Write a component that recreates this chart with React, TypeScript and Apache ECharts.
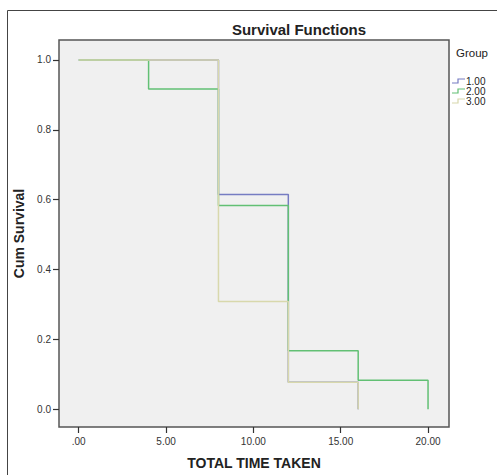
import React, { useEffect, useRef } from "react";
import * as echarts from "echarts";

const groupNames = ["1.00", "2.00", "3.00"];
const groupColors = ["#767cc2", "#62c074", "#d8d8ac"];

const g1Times = [0, 8, 12, 16];
const g1Surv = [1.0, 0.615, 0.077, 0.0];
const g2Times = [0, 4, 8, 12, 16, 20];
const g2Surv = [1.0, 0.917, 0.583, 0.167, 0.083, 0.0];
const g3Times = [0, 8, 12, 16];
const g3Surv = [1.0, 0.308, 0.077, 0.0];

const xTicks = [0, 5, 10, 15, 20];
const yTicks = [0, 0.2, 0.4, 0.6, 0.8, 1.0];

const FONT = "'Liberation Sans', Arial, sans-serif";

export default function App() {
  const ref = useRef<HTMLDivElement>(null);
  useEffect(() => {
    if (!ref.current) return;
    const chart = echarts.init(ref.current, null, { renderer: "svg" });
    const times = [g1Times, g2Times, g3Times];
    const survs = [g1Surv, g2Surv, g3Surv];
    const series = groupNames.map((name, i) => ({
      name,
      type: "line",
      step: "end",
      symbol: "none",
      data: times[i].map((t, j) => [t, survs[i][j]]),
      lineStyle: { color: groupColors[i], width: 1.5 },
      itemStyle: { color: groupColors[i] },
      z: 2 + i,
    }));

    const legendGraphics: any[] = [
      {
        type: "text",
        x: 456,
        y: 53,
        style: { text: "Group", font: `11.5px ${FONT}`, fill: "#222", textVerticalAlign: "middle" },
      },
    ];
    groupNames.forEach((name, i) => {
      const cy = 81 + i * 10;
      legendGraphics.push({
        type: "polyline",
        shape: { points: [[452, cy + 2], [458, cy + 2], [458, cy - 2], [465, cy - 2]] },
        style: { stroke: groupColors[i], lineWidth: 1.2, fill: "none" },
      });
      legendGraphics.push({
        type: "text",
        x: 466,
        y: cy,
        style: { text: name, font: `10px ${FONT}`, fill: "#222", textVerticalAlign: "middle" },
      });
    });

    chart.setOption({
      animation: false,
      backgroundColor: "#ffffff",
      grid: {
        left: 59,
        top: 40,
        width: 390,
        height: 387,
        show: true,
        backgroundColor: "#f0f0f0",
        borderColor: "#555555",
        borderWidth: 1.5,
        containLabel: false,
        outerBoundsMode: "none",
      },
      xAxis: {
        type: "value",
        min: -1.13,
        max: 21.2,
        name: "TOTAL TIME TAKEN",
        nameLocation: "middle",
        nameGap: 29,
        nameTextStyle: { fontFamily: FONT, fontSize: 14, fontWeight: "bold", color: "#222" },
        axisLine: { show: false, onZero: false },
        splitLine: { show: false },
        axisTick: {
          show: true,
          length: 6,
          lineStyle: { color: "#333", width: 1.2 },
          customValues: xTicks,
        },
        axisLabel: {
          customValues: xTicks,
          fontFamily: FONT,
          fontSize: 10,
          color: "#333",
          margin: 9,
          formatter: (v: number) => (v === 0 ? ".00" : v.toFixed(2)),
        },
      },
      yAxis: {
        type: "value",
        min: -0.051,
        max: 1.057,
        name: "Cum Survival",
        nameLocation: "middle",
        nameGap: 22,
        nameTextStyle: { fontFamily: FONT, fontSize: 14, fontWeight: "bold", color: "#222" },
        axisLine: { show: false, onZero: false },
        splitLine: { show: false },
        axisTick: {
          show: true,
          length: 6,
          lineStyle: { color: "#333", width: 1.2 },
          customValues: yTicks,
        },
        axisLabel: {
          customValues: yTicks,
          fontFamily: FONT,
          fontSize: 10,
          color: "#333",
          margin: 8,
          formatter: (v: number) => v.toFixed(1),
        },
      },
      graphic: [
        {
          type: "rect",
          shape: { x: 7.5, y: 10.5, width: 700, height: 700 },
          style: { fill: "none", stroke: "#444", lineWidth: 1 },
          silent: true,
        },
        {
          type: "text",
          x: 299,
          y: 29,
          style: {
            text: "Survival Functions",
            font: `bold 15px ${FONT}`,
            fill: "#222",
            textAlign: "center",
            textVerticalAlign: "middle",
          },
        },
        ...legendGraphics,
      ],
      series,
    });
    return () => chart.dispose();
  }, []);
  return (
    <div
      ref={ref}
      style={{ position: "fixed", left: 0, top: 0, width: 497, height: 475 }}
    />
  );
}
